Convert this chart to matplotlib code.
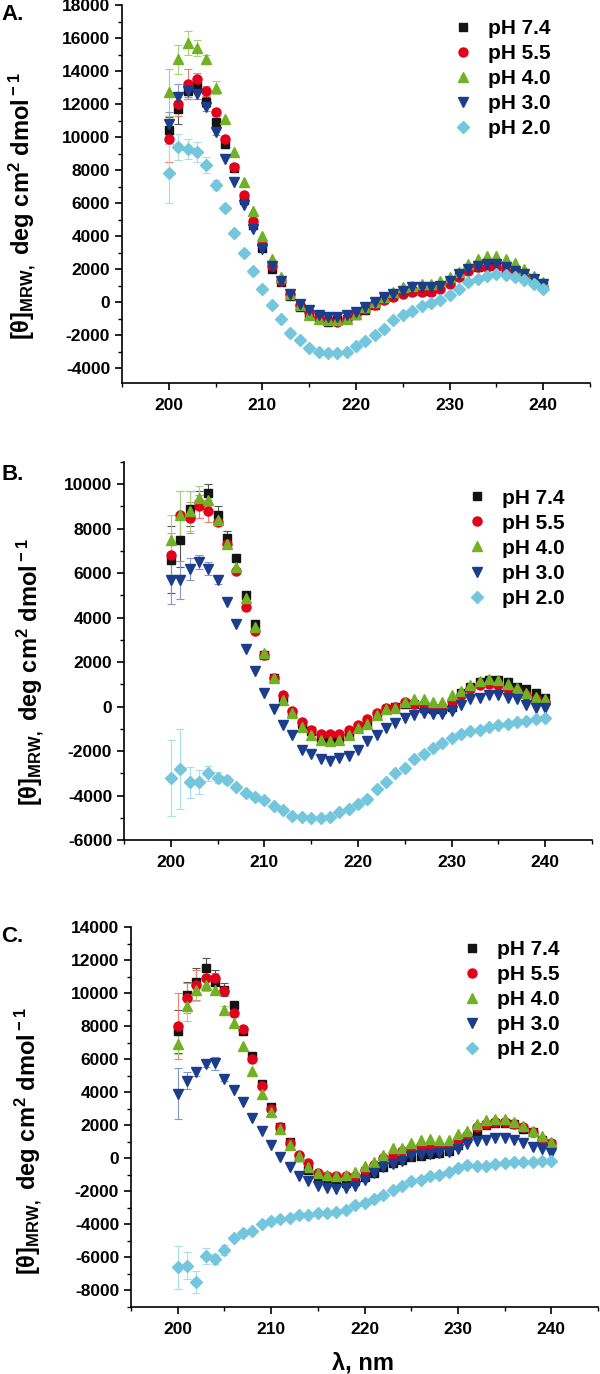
import numpy as np
import matplotlib
matplotlib.use("Agg")
import matplotlib.pyplot as plt
from matplotlib.ticker import MultipleLocator

plt.rcParams['font.family'] = ['Liberation Sans', 'DejaVu Sans']
plt.rcParams['font.weight'] = 'bold'
plt.rcParams['mathtext.fontset'] = 'custom'
plt.rcParams['mathtext.rm'] = 'Liberation Sans:bold'
plt.rcParams['mathtext.default'] = 'rm'
plt.rcParams['axes.unicode_minus'] = False

# wavelength, nm
wl = np.arange(200, 241)
labels = ["pH 7.4", "pH 5.5", "pH 4.0", "pH 3.0", "pH 2.0"]

# panel A
A74 = [10400, 11700, 12800, 13100, 12100, 10900, 9600, 8100, 6200, 4700, 3300, 2000, 1200, 400, -300,
       -700, -900, -1200, -1100, -1000, -800, -500, -200, 200, 400, 600, 700, 700, 700, 900,
       1200, 1600, 2000, 2100, 2200, 2200, 2000, 1800, 1500, 1200, 1000]
A55 = [9900, 12000, 13200, 13500, 12800, 11500, 9900, 8200, 6500, 4900, 3500, 2200, 1300, 500, -200,
       -600, -900, -1100, -1200, -1000, -700, -400, -200, 100, 300, 500, 600, 600, 600, 800,
       1100, 1500, 1900, 2100, 2100, 2100, 2000, 1800, 1500, 1200, 900]
A40 = [12700, 14700, 15700, 15400, 14700, 13000, 11100, 9100, 7300, 5500, 4000, 2600, 1500, 500, -200,
       -800, -1000, -1100, -1100, -1000, -700, -300, 0, 300, 600, 900, 1000, 1100, 1100, 1300,
       1500, 1800, 2300, 2600, 2800, 2800, 2600, 2400, 2000, 1600, 1200]
A30 = [10800, 12400, 12800, 12600, 11800, 10300, 8700, 7300, 5900, 4400, 3200, 2200, 1300, 500, -100,
       -500, -800, -900, -900, -800, -600, -300, 0, 300, 500, 700, 900, 900, 900, 1000,
       1300, 1700, 2000, 2200, 2300, 2300, 2100, 1900, 1700, 1400, 1100]
A20 = [7800, 9400, 9300, 9100, 8300, 7100, 5700, 4200, 3000, 1900, 800, -200, -1000, -1900, -2300,
       -2800, -3000, -3100, -3100, -3000, -2650, -2350, -2000, -1600, -1100, -800, -550, -250, -50, 100,
       450, 800, 1200, 1400, 1600, 1700, 1650, 1550, 1350, 1100, 800]
eA74 = [800, 900, 500, 400, 300, 200]
eA55 = [1400, 700, 900, 400, 300, 200]
eA40 = [1400, 900, 700, 500, 300, 400]
eA30 = [700, 800, 400, 300, 200, 200]
eA20 = [1800, 800, 600, 600, 500, 300]

# panel B
B74 = [6600, 7500, 8900, 9100, 9600, 8600, 7600, 6700, 5000, 3700, 2300, 1300, 400, -300, -800,
       -1100, -1400, -1500, -1400, -1300, -900, -750, -400, -100, 0, 100, 100, -50, -100, -100,
       0, 600, 900, 1100, 1200, 1200, 1100, 900, 800, 600, 400]
B55 = [6800, 8600, 8500, 9000, 8800, 8300, 7300, 6100, 4500, 3400, 2300, 1300, 500, -200, -700,
       -1050, -1250, -1250, -1250, -1050, -850, -550, -300, -50, 0, 200, 100, 100, 0, 0,
       250, 500, 800, 950, 1000, 950, 800, 700, 500, 350, 200]
B40 = [7500, 8600, 8800, 9400, 9300, 8400, 7300, 6300, 4900, 3600, 2400, 1300, 300, -300, -900,
       -1300, -1500, -1550, -1500, -1300, -950, -800, -400, -100, -50, 200, 350, 350, 200, 200,
       500, 700, 950, 1150, 1250, 1200, 1000, 850, 600, 450, 350]
B30 = [5700, 5700, 6200, 6500, 6200, 5700, 4700, 3700, 2600, 1600, 600, -100, -850, -1300, -1950,
       -2150, -2350, -2450, -2300, -2200, -1950, -1550, -1300, -950, -750, -500, -400, -300, -350, -350,
       -200, 50, 350, 400, 500, 500, 400, 350, 50, -50, -50]
B20 = [-3200, -2800, -3400, -3400, -3000, -3200, -3300, -3600, -3900, -4050, -4200, -4450, -4650, -4900, -4950,
       -5000, -5000, -4950, -4750, -4600, -4400, -4150, -3700, -3400, -3000, -2750, -2350, -2150, -1850, -1650,
       -1400, -1250, -1100, -1050, -900, -850, -800, -700, -650, -550, -500]
eB74 = [1500, 1200, 800, 600, 400, 400, 300]
eB55 = [1000, 1100, 700, 500, 500, 200]
eB40 = [1100, 1100, 900, 500, 300, 200]
eB30 = [1100, 850, 500, 300, 300, 200]
eB20 = [1700, 1800, 700, 550, 350, 250, 200]

# panel C
C74 = [7700, 9900, 10700, 11500, 10700, 10200, 9300, 7700, 6200, 4500, 3100, 1900, 1000, 100, -700,
       -1100, -1400, -1450, -1500, -1350, -1150, -900, -500, -300, -100, 100, 150, 250, 300, 450,
       800, 1200, 1650, 2000, 2150, 2150, 2050, 1800, 1600, 1100, 850]
C55 = [8000, 9700, 10500, 10900, 10900, 10100, 8800, 7800, 6000, 4400, 3000, 1900, 900, 200, -300,
       -900, -1100, -1100, -1100, -1100, -700, -400, 0, 150, 450, 650, 750, 750, 750, 800,
       1100, 1400, 1900, 2100, 2200, 2200, 2100, 1900, 1600, 1100, 950]
C40 = [6900, 9200, 10200, 10500, 10200, 9000, 8200, 6800, 5300, 3900, 2800, 1800, 800, 150, -500,
       -900, -1000, -1050, -1000, -800, -450, -200, 200, 600, 650, 950, 1100, 1150, 1100, 1100,
       1450, 1650, 2050, 2300, 2350, 2350, 2200, 1950, 1650, 1350, 1000]
C30 = [3900, 4700, 5200, 5700, 5750, 4800, 4150, 3400, 2450, 1650, 800, 50, -550, -1100, -1400,
       -1700, -1800, -1850, -1800, -1700, -1300, -900, -550, -350, -150, 150, 200, 250, 300, 400,
       550, 850, 1050, 1100, 1200, 1200, 1100, 900, 700, 550, 300]
C20 = [-6600, -6500, -7500, -5900, -6100, -5550, -4800, -4500, -4400, -3950, -3800, -3700, -3600, -3450, -3450,
       -3300, -3300, -3250, -3100, -2800, -2700, -2450, -2200, -1900, -1650, -1400, -1300, -1100, -1000, -800,
       -600, -400, -450, -450, -350, -300, -250, -250, -250, -150, -150]
eC74 = [1300, 800, 800, 600, 700, 400]
eC55 = [2000, 900, 900, 400, 300, 200]
eC40 = [600, 900, 700, 400, 300, 200]
eC30 = [1550, 500, 200, 200, 400, 150]
eC20 = [1300, 800, 650, 500, 300, 300]

colors = ['#141414', '#e3001b', '#72b024', '#1c3c8c', '#74c6dc']
ecolors = ['#555555', '#f08070', '#a8d080', '#8496cc', '#a9dde8']
markers = ['s', 'o', '^', 'v', 'D']
msizes = [5.5, 6.5, 7, 7, 6]

panels = [
    ("A.", [A74, A55, A40, A30, A20], [eA74, eA55, eA40, eA30, eA20], (-4900, 18000),
     [122, 590, 5, 383], (0.685, 0.99), 22, 206, 15),
    ("B.", [B74, B55, B40, B30, B20], [eB74, eB55, eB40, eB30, eB20], (-6000, 11000),
     [124, 592, 462, 840], (0.71, 0.957), 30, 672, 475),
    ("C.", [C74, C55, C40, C30, C20], [eC74, eC55, eC40, eC30, eC20], (-9000, 14000),
     [131, 598, 927, 1307], (0.685, 0.993), 28, 1141, 937),
]

W, H = 600, 1374
fig = plt.figure(figsize=(W / 100, H / 100), dpi=100)

for tag, series, errs, ylim, box, legpos, ylx, yly, tagy in panels:
    l, r, t, b = box
    ax = fig.add_axes([l / W, 1 - b / H, (r - l) / W, (b - t) / H])
    for i in range(5):
        n = len(errs[i])
        ax.errorbar(wl[:n], series[i][:n], yerr=errs[i], fmt='none', ecolor=ecolors[i],
                    elinewidth=0.8, capsize=3, capthick=0.8, zorder=2)
        ax.plot(wl, series[i], ls='none', marker=markers[i], ms=msizes[i], color=colors[i],
                mec=colors[i], label=labels[i], zorder=3)
    ax.set_xlim(195, 245)
    ax.set_ylim(*ylim)
    ax.xaxis.set_major_locator(MultipleLocator(10))
    ax.xaxis.set_minor_locator(MultipleLocator(5))
    ax.yaxis.set_major_locator(MultipleLocator(2000))
    ax.yaxis.set_minor_locator(MultipleLocator(1000))
    for s in ['top', 'right']:
        ax.spines[s].set_visible(False)
    for s in ['left', 'bottom']:
        ax.spines[s].set_linewidth(1.2)
    ax.tick_params(which='major', direction='out', length=5, width=1.2, labelsize=12.5)
    ax.tick_params(which='minor', direction='out', length=3, width=1.0)
    ax.tick_params(axis='x', pad=6)
    ax.legend(loc='upper left', bbox_to_anchor=legpos, frameon=False, borderpad=0,
              handlelength=1.0, handletextpad=0.7, labelspacing=0.29,
              prop={'size': 15, 'weight': 'bold'})
    fig.text(ylx / W, 1 - yly / H, '[θ]$_{\\rm MRW,}$ deg cm$^{\\rm 2}$ dmol$^{\\rm -1}$',
             rotation=90, ha='center', va='center', fontsize=17, fontweight='bold')
    fig.text(0.002, 1 - tagy / H, tag, ha='left', va='center', fontsize=16, fontweight='bold')

fig.text(363 / W, 1 - 1363 / H, 'λ, nm', ha='center', va='center', fontsize=17, fontweight='bold')

fig.savefig('out.png', dpi=100)
